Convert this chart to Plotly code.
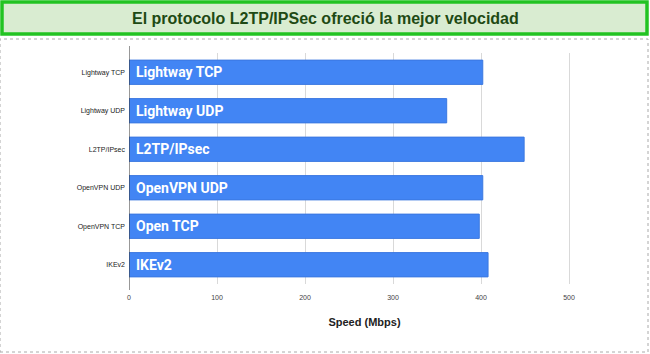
import plotly.graph_objects as go

categories = ["Lightway TCP", "Lightway UDP", "L2TP/IPsec", "OpenVPN UDP", "OpenVPN TCP", "IKEv2"]
bar_labels = ["Lightway TCP", "Lightway UDP", "L2TP/IPsec", "OpenVPN UDP", "Open TCP", "IKEv2"]
speeds = [402, 361, 449, 402, 398, 408]
x_ticks = [0, 100, 200, 300, 400, 500]
title_text = "El protocolo L2TP/IPSec ofreció la mejor velocidad"

fig = go.Figure()
fig.add_trace(go.Bar(
    y=categories, x=speeds, orientation="h",
    marker=dict(color="#4285f4", line=dict(color="#3b78e0", width=1)),
    width=0.63, hoverinfo="x+y",
))

label_annotations = [
    dict(text="<b>" + lab + "</b>", x=0, y=cat, xref="x", yref="y",
         xanchor="left", yanchor="middle", xshift=5, showarrow=False,
         font=dict(family="Roboto, Arial", size=14, color="white"))
    for cat, lab in zip(categories, bar_labels)
]

fig.update_layout(
    width=650, height=354,
    margin=dict(l=129, r=50, t=53, b=70),
    paper_bgcolor="white", plot_bgcolor="white",
    showlegend=False,
    xaxis=dict(
        range=[0, 535.2], tickvals=x_ticks, ticktext=[str(v) for v in x_ticks],
        tickfont=dict(family="Arial", size=7, color="#444444"),
        showgrid=True, gridcolor="#d9d9d9", gridwidth=1,
        zeroline=False, showline=False, ticks="", ticklen=0, ticklabelstandoff=8,
        title=dict(text="<b>Speed (Mbps)</b>", font=dict(family="Arial", size=11, color="#222222"), standoff=18),
    ),
    yaxis=dict(
        autorange="reversed",
        tickfont=dict(family="Arial", size=7, color="#222222"),
        showgrid=False, zeroline=False, showline=False, ticks="", ticklabelstandoff=3,
    ),
    shapes=[
        dict(type="rect", xref="paper", yref="paper", x0=-129/471, x1=(648-129)/471,
             y0=(70-2)/(-231), y1=1+(53-39)/231,
             line=dict(color="#aaaaaa", width=1, dash="dot"), layer="below"),
        dict(type="rect", xref="paper", yref="paper",
             x0=(2-129)/471, x1=(647-129)/471,
             y0=1+(53-34)/231, y1=1+(53-2)/231,
             fillcolor="#d9ecd1", line=dict(color="#22c322", width=3.5)),
        dict(type="line", xref="x", yref="paper", x0=0, x1=0,
             y0=-(290-284)/231, y1=1+(53-46)/231,
             line=dict(color="#333333", width=1)),
    ],
    annotations=label_annotations + [
        dict(text="<b>" + title_text + "</b>", xref="paper", yref="paper",
             x=(325-129)/471, y=1+(53-19)/231, xanchor="center", yanchor="middle",
             showarrow=False, font=dict(family="Arial", size=16, color="#1e4a14")),
    ],
)

fig.write_html("out.html")
